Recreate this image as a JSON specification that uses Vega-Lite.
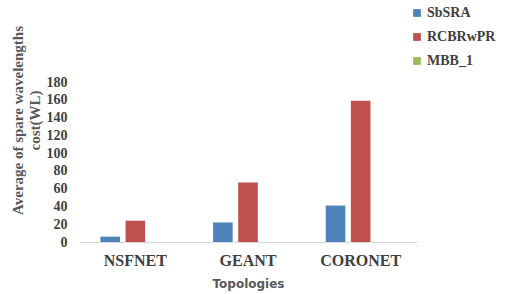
{
  "$schema": "https://vega.github.io/schema/vega-lite/v6.json",
  "width": 338,
  "height": 160,
  "autosize": {"type": "none"},
  "padding": {"left": 79, "top": 82, "right": 110, "bottom": 52},
  "background": "white",
  "data": {"values": [
    {"topology": "NSFNET", "method": "SbSRA", "cost": 6},
    {"topology": "NSFNET", "method": "RCBRwPR", "cost": 24},
    {"topology": "NSFNET", "method": "MBB_1", "cost": 0},
    {"topology": "GEANT", "method": "SbSRA", "cost": 22},
    {"topology": "GEANT", "method": "RCBRwPR", "cost": 67},
    {"topology": "GEANT", "method": "MBB_1", "cost": 0},
    {"topology": "CORONET", "method": "SbSRA", "cost": 41},
    {"topology": "CORONET", "method": "RCBRwPR", "cost": 159},
    {"topology": "CORONET", "method": "MBB_1", "cost": 0}
  ]},
  "config": {"view": {"stroke": null}},
  "mark": {"type": "bar"},
  "encoding": {
    "x": {
      "field": "topology", "type": "nominal",
      "sort": ["NSFNET", "GEANT", "CORONET"],
      "scale": {"paddingInner": 0.38, "paddingOuter": 0.19},
      "axis": {
        "title": "Topologies", "titleFont": "DejaVu Sans", "titleFontSize": 12, "titleFontWeight": "bold", "titleColor": "#595959", "titlePadding": 10,
        "labelAngle": 0, "labelFont": "Liberation Serif", "labelFontSize": 16, "labelFontWeight": "bold", "labelColor": "#404040", "labelPadding": 10,
        "ticks": false, "domainColor": "#d9d9d9", "domainWidth": 1
      }
    },
    "xOffset": {"field": "method", "type": "nominal", "sort": ["SbSRA", "RCBRwPR", "MBB_1"], "scale": {"paddingInner": 0.22}},
    "y": {
      "field": "cost", "type": "quantitative",
      "scale": {"domain": [0, 180]},
      "axis": {
        "title": ["Average of spare wavelengths", "cost(WL)"],
        "titleFont": "Liberation Serif", "titleFontSize": 15, "titleFontWeight": "bold", "titleColor": "#595959",
        "titleX": -69, "titleY": 38, "titleBaseline": "top", "titleAlign": "center", "titleAngle": -90,
        "values": [0, 20, 40, 60, 80, 100, 120, 140, 160, 180],
        "labelFont": "Liberation Serif", "labelFontSize": 14, "labelFontWeight": "bold", "labelColor": "#404040",
        "labelPadding": 12,
        "ticks": false, "domain": false, "grid": false
      }
    },
    "color": {
      "field": "method", "type": "nominal",
      "sort": ["SbSRA", "RCBRwPR", "MBB_1"],
      "scale": {"domain": ["SbSRA", "RCBRwPR", "MBB_1"], "range": ["#4F81BD", "#C0504D", "#9BBB59"]},
      "legend": {
        "title": null, "orient": "none", "legendX": 331, "legendY": -76,
        "symbolType": "square", "symbolSize": 60, "symbolStrokeWidth": 0,
        "labelFont": "Liberation Serif", "labelFontSize": 14, "labelFontWeight": "bold", "labelColor": "#404040",
        "rowPadding": 10, "labelOffset": 3
      }
    }
  }
}
